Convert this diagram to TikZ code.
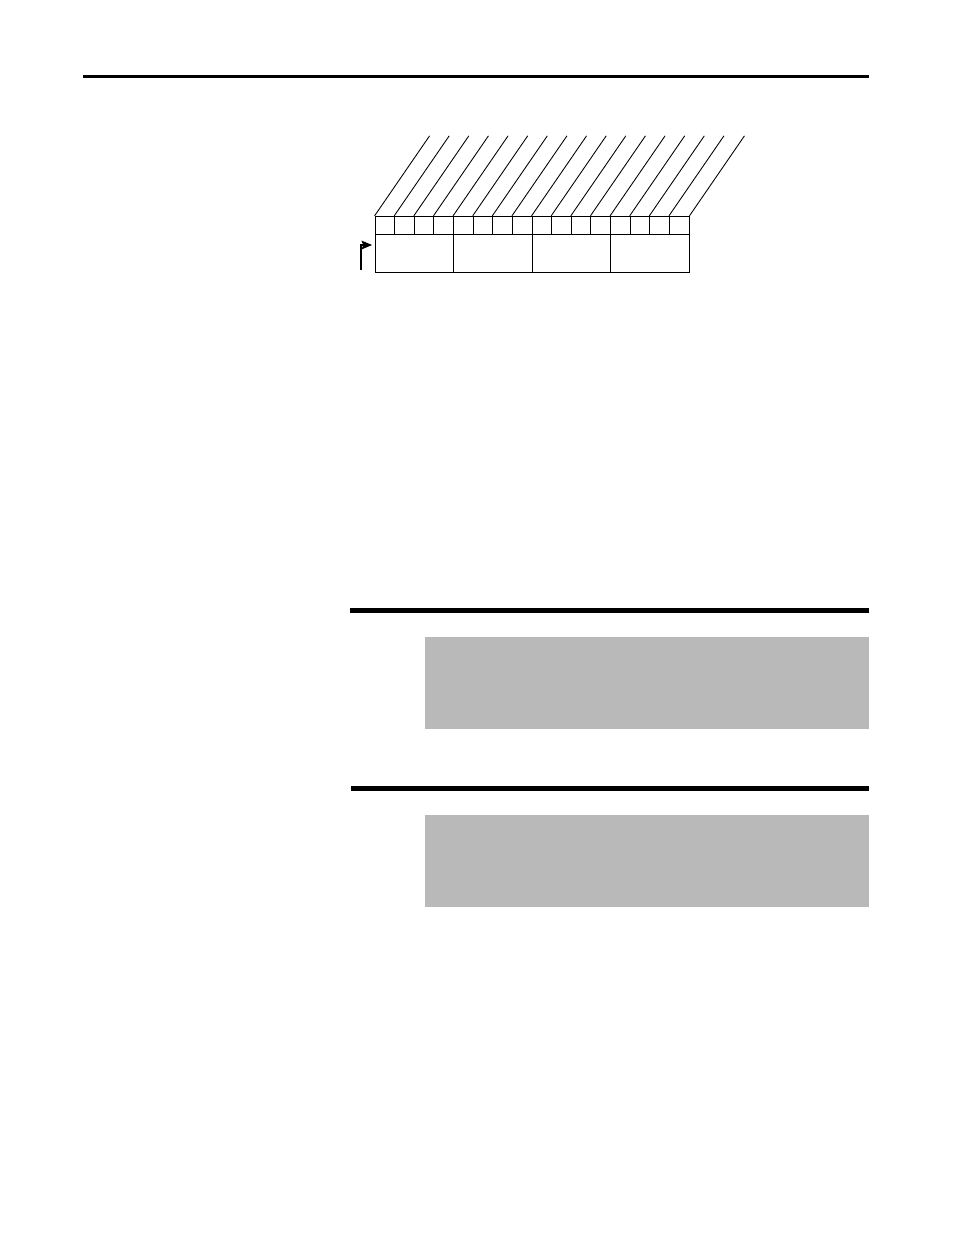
\documentclass[tikz,border=0pt]{standalone}
\usetikzlibrary{positioning,calc,arrows.meta}
\definecolor{notegray}{RGB}{185,185,185}

\begin{document}
\begin{tikzpicture}[x=0.02cm, y=-0.02cm]
	\useasboundingbox (0,0) rectangle (954,1235);

	% page rules
	\draw[line width=1.7pt] (83,76.8) -- (869,76.8);
	\draw[line width=2.7pt] (350,610.3) -- (869,610.3);
	\draw[line width=2.7pt] (351,788.5) -- (869,788.5);

	% shaded notes
	\fill[notegray] (425,637) rectangle (869,729);
	\fill[notegray] (425,815) rectangle (869,906.5);

	\begin{scope}
		\tikzstyle{every node}=[draw, inner sep=0pt, line width=0.5pt]
		\tikzstyle{bitcell}=[minimum width=0.3925cm, minimum height=0.36cm]
		\tikzstyle{groupbox}=[minimum width=1.57cm, minimum height=0.76cm]

		\foreach \i in {0,...,15}
			\node[bitcell] (b\i) at ({375+19.625*(\i+0.5)},225.3) {};
		\foreach \j in {0,...,3}
			\node[groupbox] (g\j) at ({375+78.5*(\j+0.5)},253.3) {};

		\foreach \i in {0,...,15}
			\draw[line width=0.5pt] (b\i.north west) -- ++(55,-80);
		\draw[line width=0.5pt] (b15.north east) -- ++(55,-80);

		\coordinate (feed) at (361,270);
		\draw[line width=0.6pt, -{Stealth[length=6pt, width=5pt, inset=1pt]}, shorten >=0.05cm]
			(feed) |- ([yshift=0.166cm]g0.west);
	\end{scope}
\end{tikzpicture}
\end{document}
